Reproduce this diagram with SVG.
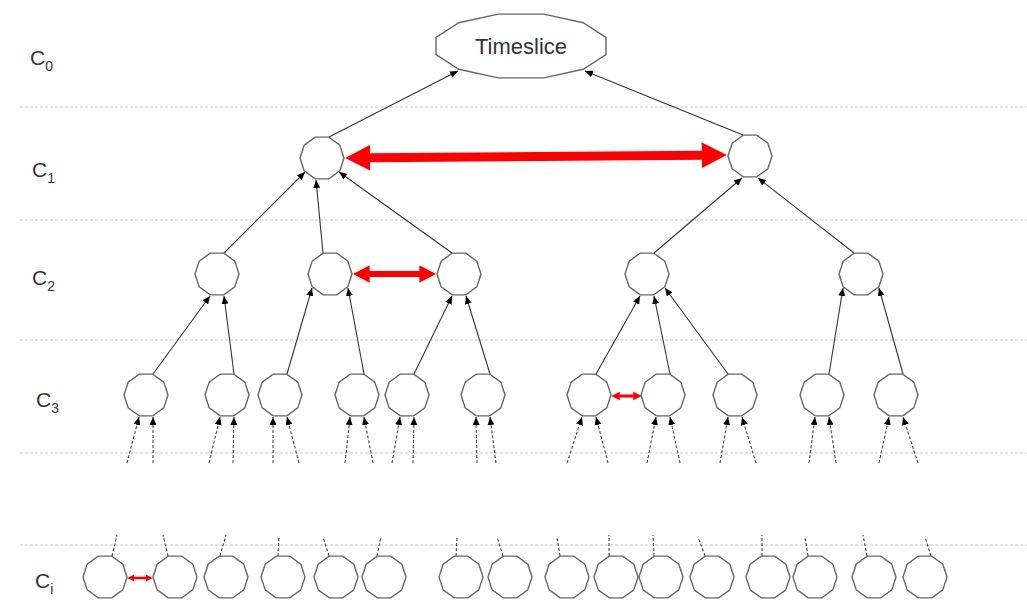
<svg xmlns="http://www.w3.org/2000/svg" xmlns:xlink="http://www.w3.org/1999/xlink" width="1027" height="600" viewBox="0 0 1027 600">
<style>
.grid{stroke:#c9c9c9;stroke-width:1.2;stroke-dasharray:3,2;fill:none}
.node{fill:#fff;stroke:#666;stroke-width:1.4}
.lbl{font-family:"Liberation Sans",Arial,sans-serif;font-size:21px;fill:#333}
.sub{font-size:14px}
.edge{stroke:#333;stroke-width:1.1;fill:none;marker-end:url(#ah)}
.dash{stroke:#444;stroke-width:1.1;fill:none;stroke-dasharray:3,2}
.dashA{marker-end:url(#ah)}
.red{stroke:#f00;fill:none;marker-start:url(#rh);marker-end:url(#rh)}
.title{font-family:"Liberation Sans",Arial,sans-serif;font-size:22px;fill:#333;text-anchor:middle}
</style>
<defs>
<marker id="ah" viewBox="0 0 8 7" markerWidth="8" markerHeight="7" refX="8" refY="3.5" orient="auto" markerUnits="userSpaceOnUse"><path d="M0,0 L8,3.5 L0,7 z" fill="#000"/></marker>
<marker id="rh" viewBox="0 0 2.8 2.9" markerWidth="2.8" markerHeight="2.9" refX="0.1" refY="1.45" orient="auto-start-reverse"><path d="M0,0 L2.8,1.45 L0,2.9 z" fill="#f00"/></marker>
<polygon id="dec" points="22,0 17.8,12.93 6.8,20.92 -6.8,20.92 -17.8,12.93 -22,0 -17.8,-12.93 -6.8,-20.92 6.8,-20.92 17.8,-12.93"/>
</defs>
<rect width="1027" height="600" fill="#fff"/>
<g id="grid">
<line class="grid" x1="20" y1="107" x2="1027" y2="107"/>
<line class="grid" x1="20" y1="220" x2="1027" y2="220"/>
<line class="grid" x1="20" y1="340" x2="1027" y2="340"/>
<line class="grid" x1="20" y1="453" x2="1027" y2="453"/>
<line class="grid" x1="20" y1="545" x2="1027" y2="545"/>
</g>
<g id="labels">
<text class="lbl" x="30" y="65">C<tspan class="sub" dy="6">0</tspan></text>
<text class="lbl" x="32" y="177">C<tspan class="sub" dy="6">1</tspan></text>
<text class="lbl" x="32" y="285">C<tspan class="sub" dy="6">2</tspan></text>
<text class="lbl" x="36" y="407">C<tspan class="sub" dy="6">3</tspan></text>
<text class="lbl" x="35" y="588">C<tspan class="sub" dy="6">i</tspan></text>
</g>
<g id="connectors">
<line class="edge" x1="329" y1="137" x2="458" y2="71"/>
<line class="edge" x1="743" y1="135" x2="585" y2="71"/>
<line class="edge" x1="224" y1="253" x2="305" y2="172"/>
<line class="edge" x1="323" y1="253" x2="316" y2="180"/>
<line class="edge" x1="452" y1="253" x2="339" y2="172"/>
<line class="edge" x1="654" y1="253" x2="742" y2="178"/>
<line class="edge" x1="854" y1="253" x2="758" y2="178"/>
<line class="edge" x1="153" y1="374" x2="210" y2="296"/>
<line class="edge" x1="234" y1="374" x2="224" y2="296"/>
<line class="edge" x1="287" y1="374" x2="312" y2="288"/>
<line class="edge" x1="364" y1="374" x2="348" y2="288"/>
<line class="edge" x1="414" y1="374" x2="452" y2="296"/>
<line class="edge" x1="490" y1="374" x2="466" y2="296"/>
<line class="edge" x1="596" y1="374" x2="640" y2="296"/>
<line class="edge" x1="670" y1="374" x2="654" y2="296"/>
<line class="edge" x1="728" y1="374" x2="665" y2="288"/>
<line class="edge" x1="829" y1="374" x2="843" y2="288"/>
<line class="edge" x1="903" y1="374" x2="879" y2="288"/>
<g class="dash dashA">
<line x1="127" y1="463" x2="139" y2="417"/><line x1="153" y1="463" x2="153" y2="417"/>
<line x1="209" y1="463" x2="220" y2="417"/><line x1="233" y1="463" x2="234" y2="417"/>
<line x1="273" y1="463" x2="273" y2="417"/><line x1="299" y1="463" x2="287" y2="417"/>
<line x1="345" y1="463" x2="350" y2="417"/><line x1="373" y1="463" x2="364" y2="417"/>
<line x1="392" y1="463" x2="400" y2="417"/><line x1="413" y1="463" x2="414" y2="417"/>
<line x1="477" y1="463" x2="476" y2="417"/><line x1="496" y1="463" x2="490" y2="417"/>
<line x1="567" y1="463" x2="582" y2="417"/><line x1="608" y1="463" x2="596" y2="417"/>
<line x1="647" y1="463" x2="656" y2="417"/><line x1="680" y1="463" x2="670" y2="417"/>
<line x1="720" y1="463" x2="728" y2="417"/><line x1="756" y1="463" x2="742" y2="417"/>
<line x1="809" y1="463" x2="815" y2="417"/><line x1="836" y1="463" x2="829" y2="417"/>
<line x1="879" y1="463" x2="889" y2="417"/><line x1="918" y1="463" x2="903" y2="417"/>
</g>
<g class="dash">
<line x1="112" y1="556" x2="117" y2="535"/>
<line x1="168" y1="556" x2="163" y2="535"/>
<line x1="220" y1="556" x2="226" y2="535"/>
<line x1="278" y1="556" x2="279" y2="537"/>
<line x1="329" y1="556" x2="323" y2="537"/>
<line x1="377" y1="556" x2="381" y2="537"/>
<line x1="456" y1="556" x2="457" y2="537"/>
<line x1="503" y1="556" x2="497" y2="537"/>
<line x1="560" y1="556" x2="557" y2="537"/>
<line x1="609" y1="556" x2="609" y2="535"/>
<line x1="654" y1="556" x2="653" y2="535"/>
<line x1="705" y1="556" x2="698" y2="537"/>
<line x1="762" y1="556" x2="762" y2="535"/>
<line x1="808" y1="556" x2="805" y2="537"/>
<line x1="867" y1="556" x2="863" y2="535"/>
<line x1="931" y1="556" x2="925" y2="537"/>
</g>
<line class="red" stroke-width="9" x1="369.5" y1="157.8" x2="702.5" y2="155.2"/>
<line class="red" stroke-width="6" x1="369" y1="274" x2="420" y2="274"/>
<line class="red" stroke-width="3" x1="619.5" y1="396" x2="633.5" y2="396"/>
<line class="red" stroke-width="2.5" x1="134" y1="578" x2="146" y2="578"/>
</g>
<g id="n-timeslice">
<polygon class="node" points="606,37.5 606,54.5 583.2,69.3 543.8,77.9 498.2,77.9 458.8,69.3 436,54.5 436,37.5 458.8,22.7 498.2,14.1 543.8,14.1 583.2,22.7"/>
<text class="title" x="521" y="54">Timeslice</text>
</g>
<g id="n-c1">
<use id="c1a" class="node" xlink:href="#dec" x="322" y="158"/>
<use id="c1b" class="node" xlink:href="#dec" x="750" y="156"/>
</g>
<g id="n-c2">
<use id="c2a" class="node" xlink:href="#dec" x="217" y="274"/>
<use id="c2b" class="node" xlink:href="#dec" x="330" y="274"/>
<use id="c2c" class="node" xlink:href="#dec" x="459" y="274"/>
<use id="c2d" class="node" xlink:href="#dec" x="647" y="274"/>
<use id="c2e" class="node" xlink:href="#dec" x="861" y="274"/>
</g>
<g id="n-c3">
<use id="c3a" class="node" xlink:href="#dec" x="146" y="395"/>
<use id="c3b" class="node" xlink:href="#dec" x="227" y="395"/>
<use id="c3c" class="node" xlink:href="#dec" x="280" y="395"/>
<use id="c3d" class="node" xlink:href="#dec" x="357" y="395"/>
<use id="c3e" class="node" xlink:href="#dec" x="407" y="395"/>
<use id="c3f" class="node" xlink:href="#dec" x="483" y="395"/>
<use id="c3g" class="node" xlink:href="#dec" x="589" y="395"/>
<use id="c3h" class="node" xlink:href="#dec" x="663" y="395"/>
<use id="c3i" class="node" xlink:href="#dec" x="735" y="395"/>
<use id="c3j" class="node" xlink:href="#dec" x="822" y="395"/>
<use id="c3k" class="node" xlink:href="#dec" x="896" y="395"/>
</g>
<g id="n-ci">
<use id="cia" class="node" xlink:href="#dec" x="105" y="577"/>
<use id="cib" class="node" xlink:href="#dec" x="175" y="577"/>
<use id="cic" class="node" xlink:href="#dec" x="226" y="577"/>
<use id="cid" class="node" xlink:href="#dec" x="283" y="577"/>
<use id="cie" class="node" xlink:href="#dec" x="336" y="577"/>
<use id="cif" class="node" xlink:href="#dec" x="384" y="577"/>
<use id="cig" class="node" xlink:href="#dec" x="461" y="577"/>
<use id="cih" class="node" xlink:href="#dec" x="510" y="577"/>
<use id="cii" class="node" xlink:href="#dec" x="567" y="577"/>
<use id="cij" class="node" xlink:href="#dec" x="616" y="577"/>
<use id="cik" class="node" xlink:href="#dec" x="661" y="577"/>
<use id="cil" class="node" xlink:href="#dec" x="712" y="577"/>
<use id="cim" class="node" xlink:href="#dec" x="768" y="577"/>
<use id="cin" class="node" xlink:href="#dec" x="815" y="577"/>
<use id="cio" class="node" xlink:href="#dec" x="874" y="577"/>
<use id="cip" class="node" xlink:href="#dec" x="925" y="577"/>
</g>
</svg>
